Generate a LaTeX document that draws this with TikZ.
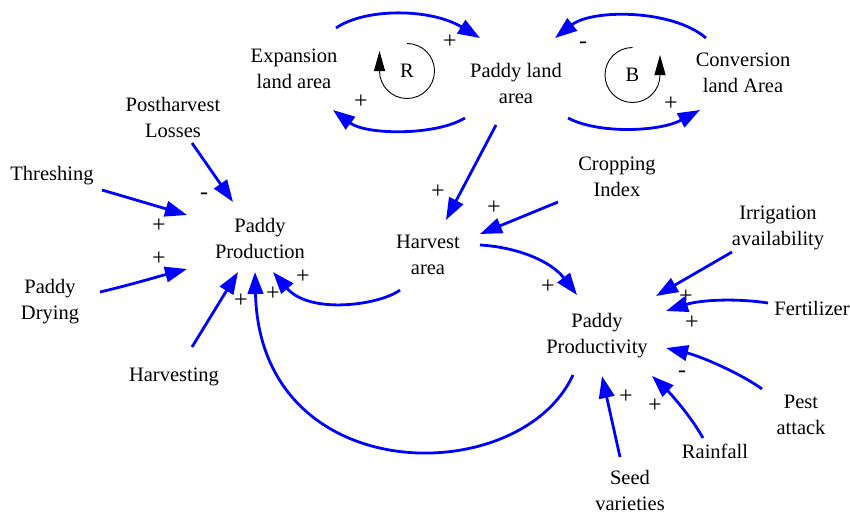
\documentclass[tikz,border=0pt]{standalone}
\usepackage{fontspec}
\setmainfont{Liberation Serif}
\usetikzlibrary{arrows.meta}
\begin{document}
\begin{tikzpicture}[x=1pt,y=-1pt,
  var/.style={align=center,inner sep=0pt,font=\fontsize{20.5}{26}\selectfont},
  sgn/.style={inner sep=0pt,font=\fontsize{24}{26}\selectfont},
  link/.style={draw=blue,line width=2.8pt,-{Triangle[length=22pt,width=15.5pt]}},
  loopline/.style={draw=black,line width=0.9pt,-{Triangle[length=20pt,width=11pt]}}]
\useasboundingbox (0,0) rectangle (850,519);
% variables
\node[var] (exp)   at (294,69)  {Expansion\\land area};
\node[var] (pla)   at (516,83)  {Paddy land\\area};
\node[var] (conv)  at (743,73)  {Conversion\\land Area};
\node[var] (post)  at (173,117) {Postharvest\\Losses};
\node[var] (thr)   at (52,176)  {Threshing};
\node[var] (prod)  at (260,238) {Paddy\\Production};
\node[var] (dry)   at (50,302)  {Paddy\\Drying};
\node[var] (harv)  at (174,377) {Harvesting};
\node[var] (ha)    at (428,255) {Harvest\\area};
\node[var] (crop)  at (617,177) {Cropping\\Index};
\node[var] (irr)   at (778,228) {Irrigation\\availability};
\node[var] (fert)  at (812,308) {Fertilizer};
\node[var] (prodv) at (597,336) {Paddy\\Productivity};
\node[var] (pest)  at (801,415) {Pest\\attack};
\node[var] (rain)  at (715,451) {Rainfall};
\node[var] (seed)  at (630,490) {Seed\\varieties};
% loops
\node[var] (R) at (407,71) {R};
\node[var] (B) at (632.5,75) {B};
\draw[loopline] ([shift={(0,-27.5)}]R.center) arc[start angle=-90,end angle=180,radius=27.5] -- ++(0,-20);
\draw[loopline] ([shift={(0,-27.5)}]B.center) arc[start angle=-90,end angle=-360,radius=27.5] -- ++(0,-20);
% links
\draw[link] ([shift={(42,-41)}]exp.center) .. controls (365,8) and (430,8) .. ([shift={(-36,-45)}]pla.center);
\draw[link] ([shift={(-51,35)}]pla.center) .. controls (435,136) and (366,135) .. ([shift={(39,41)}]exp.center);
\draw[link] ([shift={(-37,-35)}]conv.center) .. controls (672,9) and (592,9) .. ([shift={(39,-45)}]pla.center);
\draw[link] ([shift={(52,35)}]pla.center) .. controls (598,134) and (659,132) .. ([shift={(-43,37)}]conv.center);
\draw[link] ([shift={(-20,42)}]pla.center) -- ([shift={(18,-35)}]ha.center);
\draw[link] ([shift={(-59,25)}]crop.center) -- ([shift={(52,-21)}]ha.center);
\draw[link] ([shift={(52,-10)}]ha.center) .. controls (515,247) and (550,260) .. ([shift={(-20,-41)}]prodv.center);
\draw[link] ([shift={(-28,35)}]ha.center) .. controls (380,305) and (310,315) .. ([shift={(13,34)}]prod.center);
\draw[link] ([shift={(-24,39)}]prodv.center) .. controls (520,490) and (260,490) .. ([shift={(-5,34)}]prod.center);
\draw[link] ([shift={(19,26)}]post.center) -- ([shift={(-27,-36)}]prod.center);
\draw[link] ([shift={(50,14)}]thr.center) -- ([shift={(-73,-23)}]prod.center);
\draw[link] ([shift={(50,-10)}]dry.center) .. controls (130,285) and (160,276) .. ([shift={(-73,31)}]prod.center);
\draw[link] ([shift={(18,-30)}]harv.center) -- ([shift={(-22,34)}]prod.center);
\draw[link] ([shift={(-46,24)}]irr.center) -- ([shift={(59,-40)}]prodv.center);
\draw[link] ([shift={(-44,-5)}]fert.center) .. controls (735,298) and (700,300) .. ([shift={(69,-25)}]prodv.center);
\draw[link] ([shift={(-39,-26)}]pest.center) .. controls (740,373) and (700,356) .. ([shift={(69,12)}]prodv.center);
\draw[link] ([shift={(-12,-13)}]rain.center) .. controls (690,415) and (670,393) .. ([shift={(55,40)}]prodv.center);
\draw[link] ([shift={(-10,-33)}]seed.center) -- ([shift={(5,40)}]prodv.center);
% polarity signs
\node[sgn] (s1)  at (450,42)  {+};
\node[sgn] (s2)  at (361,102) {+};
\node[sgn] (s3)  at (583,45)  {-};
\node[sgn] (s4)  at (671,104) {+};
\node[sgn] (s7)  at (438,192) {+};
\node[sgn] (s8)  at (494,208) {+};
\node[sgn] (s9)  at (548,287) {+};
\node[sgn] (s10) at (303,277) {+};
\node[sgn] (s11) at (273,294) {+};
\node[sgn] (s12) at (204,196) {-};
\node[sgn] (s13) at (159,226) {+};
\node[sgn] (s14) at (159,259) {+};
\node[sgn] (s15) at (241,301) {+};
\node[sgn] (s16) at (686,297) {+};
\node[sgn] (s17) at (692,323) {+};
\node[sgn] (s18) at (682,374) {-};
\node[sgn] (s19) at (655,406) {+};
\node[sgn] (s20) at (626,397) {+};
\end{tikzpicture}
\end{document}
